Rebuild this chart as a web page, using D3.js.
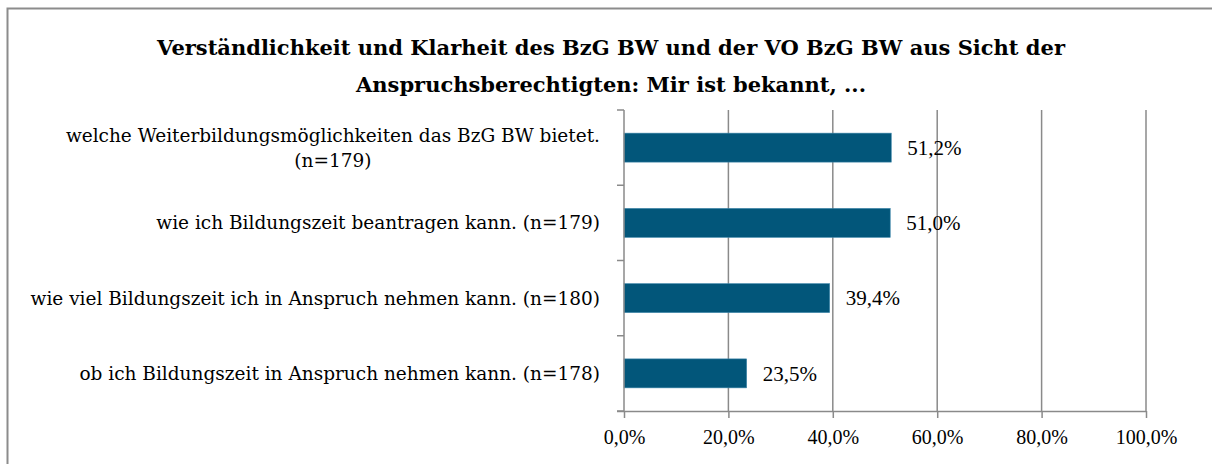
<!DOCTYPE html>
<html>
<head>
<meta charset="utf-8">
<script src="https://cdn.jsdelivr.net/npm/d3@7"></script>
<style>
  html, body { margin: 0; padding: 0; background: #fff; }
  svg { display: block; }
  text { fill: #000; }
  .serif-wide { font-family: "DejaVu Serif", serif; }
  .serif-num { font-family: "Liberation Serif", "Times New Roman", serif; }
</style>
</head>
<body>
<svg id="chart" width="1212" height="464"></svg>
<script>
// Survey answers: share of respondents who agree with each statement
const titleLines = [
  "Verständlichkeit und Klarheit des BzG BW und der VO BzG BW aus Sicht der",
  "Anspruchsberechtigten: Mir ist bekannt, ..."
];
const categories = [
  ["welche Weiterbildungsmöglichkeiten das BzG BW bietet.", "(n=179)"],
  ["wie ich Bildungszeit beantragen kann. (n=179)"],
  ["wie viel Bildungszeit ich in Anspruch nehmen kann. (n=180)"],
  ["ob ich Bildungszeit in Anspruch nehmen kann. (n=178)"]
];
const values = [51.2, 51.0, 39.4, 23.5];
const xTicks = [0, 20, 40, 60, 80, 100];

const fmt = v => v.toFixed(1).replace(".", ",") + "%";

const svg = d3.select("#chart");
const W = 1212, H = 464;
const plot = { left: 624, right: 1146, top: 110, bottom: 411 };

// outer frame (runs off the right and bottom edges)
svg.append("rect")
  .attr("x", 7.5).attr("y", 8.5)
  .attr("width", W + 20).attr("height", H + 20)
  .attr("fill", "none").attr("stroke", "#8c8c8c").attr("stroke-width", 2);

// title
svg.append("g").selectAll("text").data(titleLines).join("text")
  .attr("class", "serif-wide")
  .attr("x", 611).attr("y", (d, i) => 55 + i * 37)
  .attr("text-anchor", "middle")
  .style("font-size", "21px").style("font-weight", "bold")
  .text(d => d);

const x = d3.scaleLinear().domain([0, 100]).range([plot.left, plot.right]);
const y = d3.scaleBand()
  .domain(d3.range(categories.length))
  .range([plot.top, plot.bottom])
  .paddingInner(0.615).paddingOuter(0.3075);

// vertical gridlines
svg.append("g").selectAll("line").data(xTicks.slice(1)).join("line")
  .attr("x1", d => x(d)).attr("x2", d => x(d))
  .attr("y1", plot.top).attr("y2", plot.bottom)
  .attr("stroke", "#8a8a8a").attr("stroke-width", 1.5);

// bars
svg.append("g").selectAll("rect").data(values).join("rect")
  .attr("x", x(0)).attr("y", (d, i) => y(i))
  .attr("width", d => x(d) - x(0)).attr("height", y.bandwidth())
  .attr("fill", "#02567a").attr("stroke", "#3f87ab").attr("stroke-width", 0.6);

// value labels
svg.append("g").selectAll("text").data(values).join("text")
  .attr("class", "serif-num")
  .attr("x", d => x(d) + 16).attr("y", (d, i) => y(i) + y.bandwidth() / 2)
  .attr("dy", "0.35em")
  .style("font-size", "21px")
  .text(d => fmt(d));

// x axis
const xAxis = d3.axisBottom(x).tickValues(xTicks).tickSize(7).tickPadding(12)
  .tickFormat(d => fmt(d));
const gx = svg.append("g").attr("transform", `translate(0,${plot.bottom})`).call(xAxis);
gx.attr("font-family", null).attr("font-size", null);
gx.select(".domain").attr("stroke", "#8a8a8a").attr("stroke-width", 1.5)
  .attr("d", `M${plot.left - 7},0.5H${plot.right}`);
gx.selectAll(".tick line").attr("stroke", "#8a8a8a").attr("stroke-width", 1.5);
gx.selectAll(".tick text").attr("class", "serif-num")
  .style("font-size", "20px").attr("fill", "#000");

// y axis: boundaries between categories
const yBounds = d3.range(categories.length + 1).map(i => plot.top + i * y.step());
const gy = svg.append("g");
gy.append("line").attr("x1", plot.left).attr("x2", plot.left)
  .attr("y1", plot.top).attr("y2", plot.bottom)
  .attr("stroke", "#8a8a8a").attr("stroke-width", 1.5);
gy.selectAll("line.tk").data(yBounds).join("line").attr("class", "tk")
  .attr("x1", plot.left - 7).attr("x2", plot.left)
  .attr("y1", d => d).attr("y2", d => d)
  .attr("stroke", "#8a8a8a").attr("stroke-width", 1.5);

// category labels: centred lines, block right-aligned against the axis
const labelRight = 600, lineH = 25;
categories.forEach((lines, i) => {
  const g = svg.append("g");
  const texts = g.selectAll("text").data(lines).join("text")
    .attr("class", "serif-wide")
    .style("font-size", "18.5px")
    .attr("text-anchor", "middle")
    .text(d => d);
  const widths = texts.nodes().map(n => n.getComputedTextLength());
  const maxW = d3.max(widths);
  const cy = y(i) + y.bandwidth() / 2;
  const top = cy - (lines.length - 1) * lineH / 2;
  texts.attr("x", labelRight - maxW / 2)
    .attr("y", (d, j) => top + j * lineH)
    .attr("dy", "0.35em");
});
</script>
</body>
</html>
